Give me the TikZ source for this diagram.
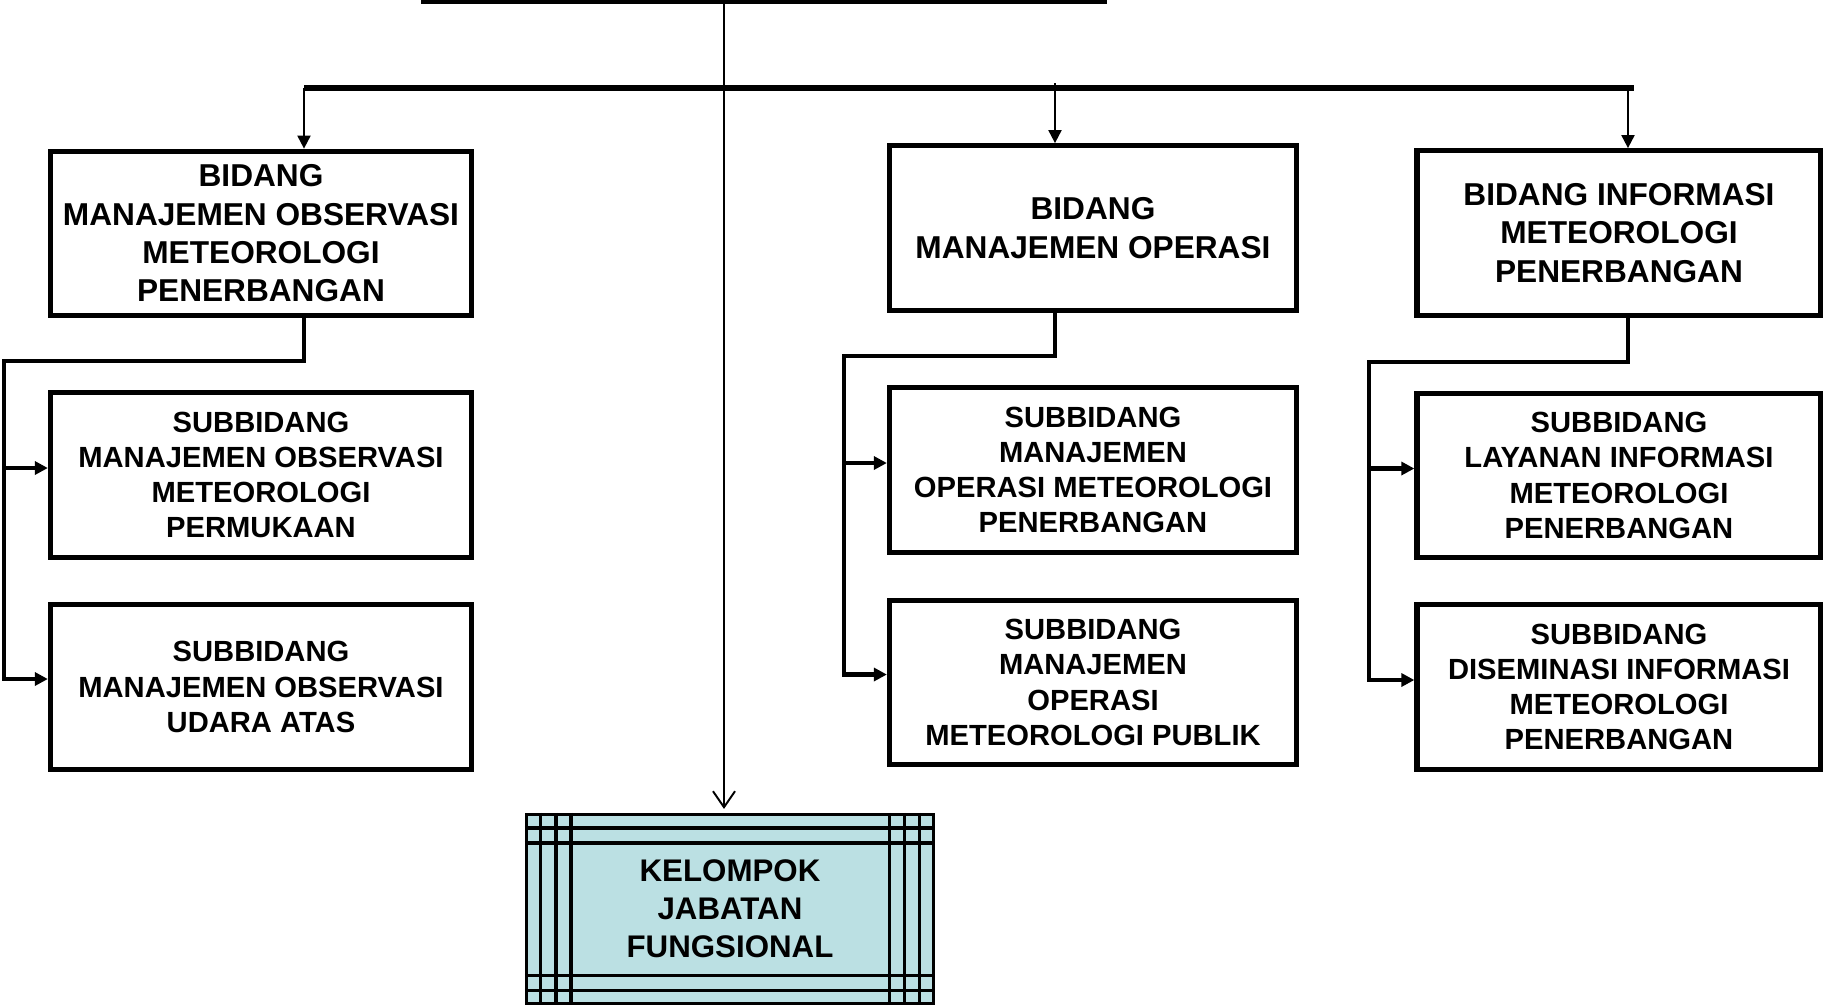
\documentclass[tikz,border=0pt]{standalone}
\usepackage{fontspec}
\setmainfont{Liberation Sans}
\usetikzlibrary{arrows.meta}

\definecolor{jabfill}{RGB}{187,224,227}

\begin{document}
\begin{tikzpicture}[
    bidang/.style={draw,line width=1.5pt,minimum height=1.645cm,inner sep=0pt,align=center,
        font=\bfseries\fontsize{9}{10.9}\selectfont},
    subbidang/.style={draw,line width=1.5pt,minimum height=1.645cm,inner sep=0pt,align=center,
        font=\bfseries\fontsize{8.3}{10}\selectfont},
    kelompok/.style={draw,fill=jabfill,line width=0.9pt,minimum width=4.07cm,minimum height=1.89cm,
        inner sep=0pt,align=center,font=\bfseries\fontsize{8.9}{10.8}\selectfont},
    tip/.style={-{Triangle[length=1.3mm,width=1.3mm]}},
    conn/.style={line width=1.15pt},
    ]
    \useasboundingbox (0,0) rectangle (18.23,-10.06);

    \node[bidang,minimum width=4.21cm] (b1) at (2.61,-2.335) {BIDANG\\MANAJEMEN OBSERVASI\\METEOROLOGI\\PENERBANGAN};
    \node[bidang,minimum width=4.07cm] (b2) at (10.93,-2.28) {BIDANG\\MANAJEMEN OPERASI};
    \node[bidang,minimum width=4.04cm] (b3) at (16.19,-2.33) {BIDANG INFORMASI\\METEOROLOGI\\PENERBANGAN};

    \node[subbidang,minimum width=4.21cm] (s1) at (2.61,-4.75) {SUBBIDANG\\MANAJEMEN OBSERVASI\\METEOROLOGI\\PERMUKAAN};
    \node[subbidang,minimum width=4.21cm] (s2) at (2.61,-6.87) {SUBBIDANG\\MANAJEMEN OBSERVASI\\UDARA ATAS};
    \node[subbidang,minimum width=4.07cm] (s3) at (10.93,-4.70) {SUBBIDANG\\MANAJEMEN\\OPERASI METEOROLOGI\\PENERBANGAN};
    \node[subbidang,minimum width=4.07cm] (s4) at (10.93,-6.825) {SUBBIDANG\\MANAJEMEN\\OPERASI\\METEOROLOGI PUBLIK};
    \node[subbidang,minimum width=4.04cm] (s5) at (16.19,-4.755) {SUBBIDANG\\LAYANAN INFORMASI\\METEOROLOGI\\PENERBANGAN};
    \node[subbidang,minimum width=4.04cm] (s6) at (16.19,-6.87) {SUBBIDANG\\DISEMINASI INFORMASI\\METEOROLOGI\\PENERBANGAN};

    \node[kelompok] (kjf) at (7.30,-9.09) {KELOMPOK\\JABATAN\\FUNGSIONAL};
    \foreach \d in {0.155,0.31,0.46} {
        \draw[line width=0.9pt] ([xshift=\d cm]kjf.north west) -- ([xshift=\d cm]kjf.south west);
        \draw[line width=0.9pt] ([xshift=-\d cm]kjf.north east) -- ([xshift=-\d cm]kjf.south east);
    }
    \foreach \d in {0.15,0.30} {
        \draw[line width=0.9pt] ([yshift=-\d cm]kjf.north west) -- ([yshift=-\d cm]kjf.north east);
        \draw[line width=0.9pt] ([yshift=\d cm]kjf.south west) -- ([yshift=\d cm]kjf.south east);
    }

    % top lines
    \coordinate (tl) at (4.21,-0.02);
    \coordinate (tr) at (11.07,-0.02);
    \coordinate (top) at (7.24,-0.02);
    \draw[line width=1.3pt] (tl) -- (tr);
    \draw[line width=0.55pt,-{Straight Barb[length=1.6mm,width=2.2mm]},shorten >=0.4mm] (top) -- (top |- kjf.north);

    \coordinate (busl) at (3.04,-0.88);
    \coordinate (busr) at (16.34,-0.88);
    \coordinate (a2) at (10.55,-0.83);
    \coordinate (a3) at (16.28,-0.88);
    \draw[line width=1.5pt] (busl) -- (busr);
    \draw[tip,line width=0.55pt] (busl) -- (busl |- b1.north);
    \draw[tip,line width=0.55pt] (a2) -- (a2 |- b2.north);
    \draw[tip,line width=0.55pt] (a3) -- (a3 |- b3.north);

    % branches
    \coordinate (k1) at (0.04,-3.61);
    \coordinate (k2) at (8.44,-3.56);
    \coordinate (k3) at (13.69,-3.62);
    \draw[conn,tip] (busl |- b1.south) |- (k1) |- ([yshift=0.08cm]s2.west);
    \draw[conn,tip] (k1) |- ([yshift=0.07cm]s1.west);
    \draw[conn,tip] (a2 |- b2.south) |- (k2) |- ([yshift=0.08cm]s4.west);
    \draw[conn,tip] (k2) |- ([yshift=0.07cm]s3.west);
    \draw[conn,tip] (a3 |- b3.south) |- (k3) |- ([yshift=0.07cm]s6.west);
    \draw[conn,tip] (k3) |- ([yshift=0.07cm]s5.west);

\end{tikzpicture}
\end{document}
